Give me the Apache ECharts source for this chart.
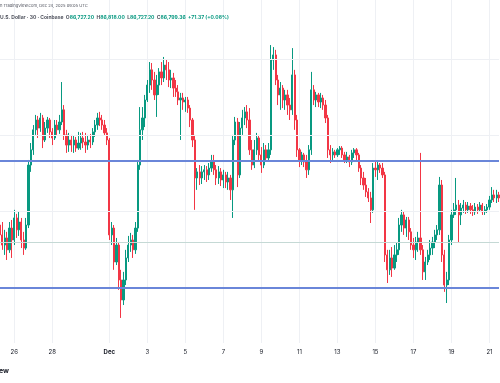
<!DOCTYPE html>
<html>
<head>
<meta charset="utf-8">
<script src="https://cdn.jsdelivr.net/npm/echarts@6/dist/echarts.min.js"></script>
<style>
html,body{margin:0;padding:0;background:#fff;}
#chart{width:500px;height:383px;}
</style>
</head>
<body>
<div id="chart"></div>
<script>
// 3-hour candles, BTC/USD (Coinbase), starting 2025-11-25 06:00 UTC
const startTime = Date.UTC(2025, 10, 25, 6, 0);
const stepHours = 3;

const opens = [
87470,87080,86680,86960,86490,87350,86880,87750,87280,87590,
86880,86560,87470,89840,90440,91230,91620,91300,91700,90830,
91300,91620,91150,90910,91420,91230,91540,92020,91030,90630,
90830,90630,90830,90510,90710,90910,90750,90630,90830,90750,
91150,91420,91700,91620,91420,91110,90830,87080,87350,86010,
86680,85300,84510,85300,86170,86680,86880,86490,87350,89840,
91230,91700,92410,93000,93600,93200,92610,93000,93520,93280,
93790,93600,93200,93280,92880,92730,92410,92490,92330,92410,
92090,91620,90830,89330,89570,89330,89570,89650,89450,89720,
89960,89650,89330,89570,89250,89450,89170,89330,88860,90830,
91540,89450,91300,91700,91940,91620,90440,89840,90440,90910,
90240,89840,90440,90120,90440,93990,94190,93200,92610,92880,
92410,92610,92210,92020,93400,91620,90440,90040,90240,89960,
89650,90440,92810,92410,92610,92330,92490,92210,91700,90440,
90240,90360,90240,90440,90510,90240,90040,90160,89960,90320,
90440,90240,89720,89330,89050,88780,88540,88070,89720,89650,
89840,89720,89450,86290,85700,86170,85770,86290,86490,87470,
87870,87350,87670,87200,86680,86490,86800,86960,86490,85620,
86010,86290,86560,86800,87080,87280,89050,86290,85100,85300,
86880,87870,88070,88260,87870,88140,88260,88070,88220,88070,
87990,88180,88070,88260,87990,88070,88180,88460,88660,88540,88660
];
const closes = [
87080,86680,86960,86490,87350,86880,87750,87280,87590,86880,
86560,87470,89840,90440,91230,91620,91300,91700,90830,91300,
91620,91150,90910,91420,91230,91540,92020,91030,90630,90830,
90630,90830,90510,90710,90910,90750,90630,90830,90750,91150,
91420,91700,91620,91420,91110,90830,87080,87350,86010,86680,
85300,84510,85300,86170,86680,86880,86490,87350,89840,91230,
91700,92410,93000,93600,93200,92610,93000,93520,93280,93790,
93600,93200,93280,92880,92730,92410,92490,92330,92410,92090,
91620,90830,89330,89570,89330,89570,89650,89450,89720,89960,
89650,89330,89570,89250,89450,89170,89330,88860,90830,91540,
89450,91300,91700,91940,91620,90440,89840,90440,90910,90240,
89840,90440,90120,90440,93990,94190,93200,92610,92880,92410,
92610,92210,92020,93400,91620,90440,90040,90240,89960,89650,
90440,92810,92410,92610,92330,92490,92210,91700,90440,90240,
90360,90240,90440,90510,90240,90040,90160,89960,90320,90440,
90240,89720,89330,89050,88780,88540,88070,89720,89650,89840,
89720,89450,86290,85700,86170,85770,86290,86490,87470,87870,
87350,87670,87200,86680,86490,86800,86960,86490,85620,86010,
86290,86560,86800,87080,87280,89050,86290,85100,85300,86880,
87870,88070,88260,87870,88140,88260,88070,88220,88070,87990,
88180,88070,88260,87990,88070,88180,88460,88660,88540,88660,88540
];
const highs = [
87990,87590,87280,87200,87590,87670,88070,87910,87990,87750,
87200,87750,90040,90710,91420,91820,91780,91900,91820,91540,
91740,91700,91300,91620,91620,91820,93120,92210,91230,91110,
91030,90990,90950,91150,91110,91150,91110,91030,91070,91300,
91620,91900,91940,91820,91620,91300,90910,87590,87470,86960,
86800,85700,85620,86490,87040,87160,87080,87590,90040,92130,
92130,92610,93200,93910,93870,93520,93400,93670,93910,94110,
93990,93910,93600,93480,93200,93000,92690,92690,92530,92530,
92210,91700,91030,89720,89840,89800,89840,89800,89920,90240,
90240,89840,89800,89720,89650,89570,89570,89450,91030,91740,
91700,91540,92020,92130,92210,92090,90830,90830,91110,91030,
90550,90710,90630,90710,94580,94500,94390,93400,93120,93000,
92810,92810,92490,94460,93600,91820,90510,90360,90320,90240,
90630,93520,93000,92730,92690,92690,92610,92410,91820,90630,
90510,90440,90510,90590,90590,90360,90360,90240,90440,90510,
90510,90320,89840,89570,89330,88930,88780,89920,89960,89960,
89920,89920,89570,86490,86490,86600,86680,86760,87750,88070,
87990,87790,87790,87350,86960,87000,87200,90320,86680,86210,
86490,86880,87000,87280,87470,89370,89250,86490,85620,87080,
88070,88340,89330,88460,88340,88460,88380,88380,88340,88260,
88340,88300,88380,88340,88220,88300,88620,88970,88860,88860,88780
];
const lows = [
86880,86490,86290,86090,86370,86170,86680,86960,87040,86560,
86290,86490,87350,89570,90240,91030,90910,91150,90510,90750,
91110,90910,90630,90830,91030,91070,91420,90830,90320,90360,
90360,90320,90360,90440,90440,90510,90320,90440,90510,90630,
90950,91230,91380,91230,90990,90630,86880,86680,85700,85890,
84910,83800,84310,85100,86010,86410,86170,86330,87200,89650,
90830,91340,92330,92690,92810,92410,91740,92610,93000,93120,
93200,92920,92880,92530,92530,92210,90830,92020,91940,91900,
91340,90550,88070,88860,89050,89090,89250,89170,89250,89570,
89450,89050,89090,89010,88930,88930,88860,88460,87750,90630,
88970,89330,91030,91420,91300,90240,89650,89720,90240,90040,
89530,89720,89960,89960,90240,93600,93000,92210,92020,92090,
92020,91820,91620,91820,91230,90160,89760,89840,89760,89330,
89450,90240,92210,92130,92130,92090,92020,91500,90120,89920,
90040,90120,90160,90240,90120,89920,89920,89760,89840,90120,
90040,89570,89050,88860,88580,88380,87550,87950,89370,89250,
89530,89330,86010,85180,85500,85420,85700,86010,86290,87200,
87080,87000,86880,86490,86170,86090,86410,86290,85300,85300,
85890,86090,86290,86560,86880,87080,86010,84830,84390,85100,
86680,87750,87870,86800,87470,87950,87910,87950,87910,87830,
87870,87910,87990,87870,87870,87950,88070,88340,88380,88340,88380
];

// Axis ticks (days) and their labels
const tickDays = ['2025-11-26','2025-11-28','2025-12-01','2025-12-03','2025-12-05','2025-12-07','2025-12-09','2025-12-11','2025-12-13','2025-12-15','2025-12-17','2025-12-19','2025-12-21'];
const tickLabels = ['26','28','Dec','3','5','7','9','11','13','15','17','19','21'];

// Horizontal reference lines
const levelLines = [90000, 85000];
const gridPrices = [85000, 88000, 91000, 94000];
const lastPrice = 86799.36;

function pad(n){return (n<10?'0':'')+n;}
const categories = opens.map((_, i) => {
  const d = new Date(startTime + i * stepHours * 3600 * 1000);
  return d.getUTCFullYear()+'-'+pad(d.getUTCMonth()+1)+'-'+pad(d.getUTCDate())+' '+pad(d.getUTCHours())+':00';
});
const tickSet = {};
tickDays.forEach((d, i) => { tickSet[d + ' 00:00'] = tickLabels[i]; });
const isTick = (idx) => tickSet.hasOwnProperty(categories[idx]);

const candleData = opens.map((o, i) => [o, closes[i], lows[i], highs[i]]);

const UP = '#089981', DOWN = '#f23645';
const FONT = 'Inter, "Noto Sans", sans-serif';

const chart = echarts.init(document.getElementById('chart'), null, {renderer: 'canvas'});
chart.setOption({
  animation: false,
  backgroundColor: '#ffffff',
  title: [
    {
      text: 'h TradingView.com, Dec 24, 2025 09:05 UTC',
      left: 0, top: 3.5, padding: 0,
      textStyle: {fontSize: 4.1, fontWeight: 'normal', color: '#50535e', fontFamily: FONT}
    },
    {
      text: '{g|U.S. Dollar · 30 · Coinbase}  {g|O}{v|86,727.20}  {g|H}{v|86,818.00}  {g|L}{v|86,727.20}  {g|C}{v|86,799.36}  {v|+71.37 (+0.08%)}',
      left: 0, top: 15, padding: 0,
      textStyle: {
        fontSize: 5, fontFamily: FONT,
        rich: {
          g: {fontSize: 5, color: '#50535e', fontFamily: FONT},
          v: {fontSize: 5, color: UP, fontFamily: FONT}
        }
      }
    }
  ],
  graphic: [
    {type: 'text', left: -1, top: 367, style: {text: 'ew', fontSize: 7, fontWeight: 'bold', fill: '#131722', fontFamily: FONT}}
  ],
  grid: {left: -1, right: 1, top: 0, bottom: 40, containLabel: false},
  xAxis: {
    type: 'category',
    data: categories,
    boundaryGap: false,
    axisLine: {show: false},
    axisTick: {show: false},
    axisLabel: {
      interval: isTick,
      formatter: (v) => tickSet[v] === 'Dec' ? '{b|Dec}' : (tickSet[v] || ''),
      color: '#131722',
      fontSize: 6,
      fontFamily: FONT,
      margin: 6,
      hideOverlap: false,
      rich: {b: {fontWeight: 'bold', fontSize: 6, color: '#131722', fontFamily: FONT}}
    },
    splitLine: {show: true, interval: isTick, lineStyle: {color: '#eef0f4', width: 1}}
  },
  yAxis: {
    type: 'value',
    min: 82810,
    max: 96360,
    axisLine: {show: false},
    axisTick: {show: false},
    axisLabel: {show: false},
    splitLine: {show: false}
  },
  series: [
    {
      type: 'line',
      data: [],
      z: 1,
      silent: true,
      markLine: {
        silent: true,
        symbol: ['none', 'none'],
        label: {show: false},
        lineStyle: {color: '#eef0f4', width: 1, type: 'solid'},
        data: gridPrices.map(p => ({yAxis: p}))
      }
    },
    {
      type: 'line',
      data: [],
      z: 1,
      silent: true,
      markLine: {
        silent: true,
        symbol: ['none', 'none'],
        label: {show: false},
        lineStyle: {color: '#c5d9d5', width: 1, type: 'solid'},
        data: [{yAxis: lastPrice}]
      }
    },
    {
      type: 'candlestick',
      data: candleData,
      z: 3,
      barWidth: 1.7,
      itemStyle: {color: UP, color0: DOWN, borderColor: UP, borderColor0: DOWN, borderWidth: 1},
      markLine: {
        silent: true,
        symbol: ['none', 'none'],
        label: {show: false},
        lineStyle: {color: '#6a86d9', width: 1.8, type: 'solid'},
        data: levelLines.map(p => ({yAxis: p}))
      }
    }
  ]
});
</script>
</body>
</html>
